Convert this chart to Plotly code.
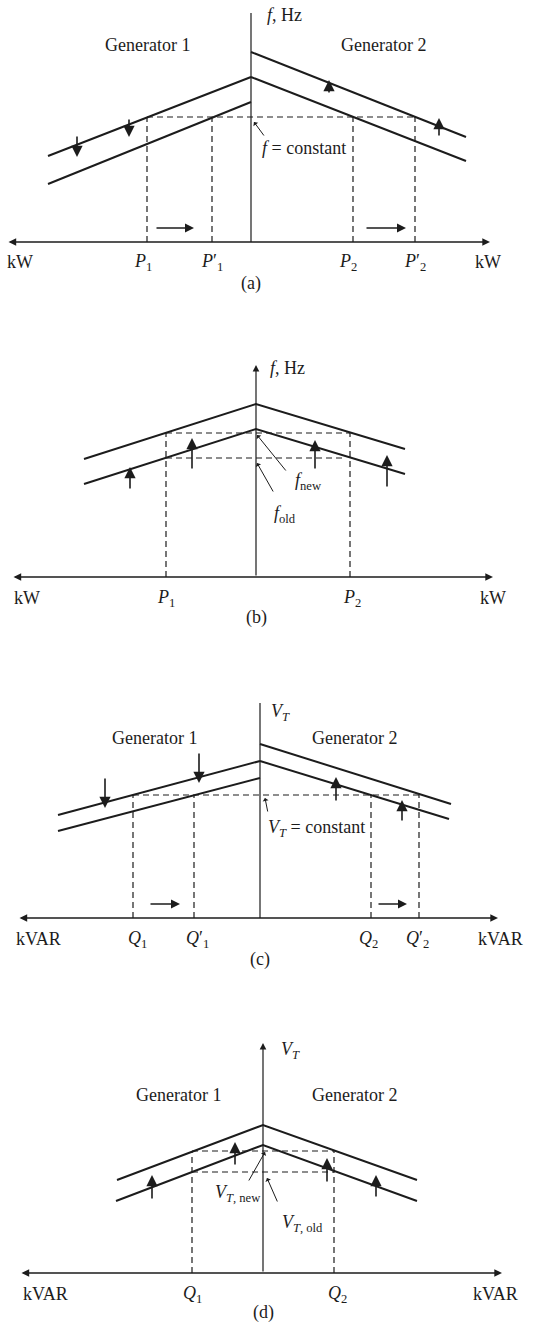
import plotly.graph_objects as go

# ===================== DATA (panel-local units: x measured from the vertical axis,
# y measured upward from the horizontal axis) =====================

# ---- Panel (a): f vs kW, governor set points moved ----
a_hax = [-244, 239]
a_vtop = 229
a_g1_up_x = [-203, 0]; a_g1_up_y = [86, 165]
a_g1_lo_x = [-203, 0]; a_g1_lo_y = [58, 140]
a_g2_up_x = [0, 215];  a_g2_up_y = [190, 105]
a_g2_lo_x = [0, 215];  a_g2_lo_y = [165, 81]
a_const_x = [-104, 164]; a_const_y = 125
a_drop_x = [-104, -39, 102, 164]
a_tick_x = [-108, -39, 97, 164]
a_tick_txt = ["<i>P</i><sub>1</sub>", "<i>P</i>′<sub>1</sub>", "<i>P</i><sub>2</sub>", "<i>P</i>′<sub>2</sub>"]
a_shift_x = [-174, -122, 78, 188]
a_shift_from = [107, 124, 148, 105]
a_shift_to = [85, 105, 162, 124]
a_move_from = [-96, 114]; a_move_to = [-57, 155]; a_move_y = 14

# ---- Panel (b): f vs kW, both set points raised ----
b_hax = [-244, 237]
b_vtop = 212
b_up_x = [-172, 0, 149]; b_up_y = [118, 173, 128]
b_lo_x = [-172, 0, 149]; b_lo_y = [93, 148, 103]
b_new_x = [-90, 94];  b_new_y = 144
b_old_x = [-90, 86];  b_old_y = 119
b_drop_x = [-90, 94]
b_tick_x = [-90, 96]
b_tick_txt = ["<i>P</i><sub>1</sub>", "<i>P</i><sub>2</sub>"]
b_shift_x = [-126, -64, 59, 131]
b_shift_from = [87, 107, 107, 89]
b_shift_to = [110, 139, 137, 122]

# ---- Panel (c): V_T vs kVAR, field currents changed ----
c_hax = [-242, 238]
c_vtop = 215
c_g1_up_x = [-202, 0]; c_g1_up_y = [103, 157]
c_g1_lo_x = [-202, 0]; c_g1_lo_y = [87, 140]
c_g2_up_x = [0, 191];  c_g2_up_y = [174, 114]
c_g2_lo_x = [0, 189];  c_g2_lo_y = [157, 99]
c_const_x = [-127, 159]; c_const_y = 123
c_drop_x = [-127, -66, 111, 159]
c_tick_x = [-123, -63, 108, 157]
c_tick_txt = ["<i>Q</i><sub>1</sub>", "<i>Q</i>′<sub>1</sub>", "<i>Q</i><sub>2</sub>", "<i>Q</i>′<sub>2</sub>"]
c_shift_x = [-155, -61, 76, 142]
c_shift_from = [141, 166, 116, 96]
c_shift_to = [110, 135, 141, 118]
c_move_from = [-111, 117]; c_move_to = [-80, 147]; c_move_y = 14

# ---- Panel (d): V_T vs kVAR, both field currents raised ----
d_hax = [-243, 239]
d_vtop = 230
d_up_x = [-146, 0, 154]; d_up_y = [93, 148, 93]
d_lo_x = [-147, 0, 154]; d_lo_y = [72, 128, 72]
d_new_x = [-71, 71]; d_new_y = 122
d_old_x = [-71, 71]; d_old_y = 101
d_drop_x = [-71, 71]
d_tick_x = [-71, 74]
d_tick_txt = ["<i>Q</i><sub>1</sub>", "<i>Q</i><sub>2</sub>"]
d_shift_x = [-111, -28, 64, 113]
d_shift_from = [73, 107, 90, 75]
d_shift_to = [98, 131, 115, 98]

# ===================== LAYOUT (pixel placement of each panel) =====================
W, H = 547, 1325
PANELS = {
    "a": dict(ax="", ox=251, oy=242, top=0, bot=300),
    "b": dict(ax="2", ox=256, oy=577, top=300, bot=640),
    "c": dict(ax="3", ox=260, oy=918, top=640, bot=990),
    "d": dict(ax="4", ox=263, oy=1273, top=990, bot=1325),
}
INK = "#1c1c1c"
FONT = "Liberation Serif"
FS = 18

fig = go.Figure()
annotations = []


def refs(p):
    s = PANELS[p]["ax"]
    return "x" + s, "y" + s


def line(p, xs, ys, width=2.0, dash=None):
    xr, yr = refs(p)
    fig.add_trace(go.Scatter(x=xs, y=ys, mode="lines", xaxis=xr, yaxis=yr,
                             line=dict(color=INK, width=width, dash=dash),
                             hoverinfo="skip", showlegend=False))


def arrow(p, x0, y0, x1, y1, width=1.5, size=1.0, head=2, side="end"):
    xr, yr = refs(p)
    annotations.append(dict(x=x1, y=y1, ax=x0, ay=y0, xref=xr, yref=yr, axref=xr, ayref=yr,
                            text="", showarrow=True, arrowhead=head, arrowsize=size,
                            arrowwidth=width, arrowcolor=INK, arrowside=side,
                            startarrowhead=head, startarrowsize=size, standoff=0, startstandoff=0))


def text(p, x, y, s, size=FS, anchor="center"):
    xr, yr = refs(p)
    annotations.append(dict(x=x, y=y, xref=xr, yref=yr, text=s, showarrow=False,
                            xanchor=anchor, yanchor="middle",
                            font=dict(family=FONT, size=size, color=INK)))


DASH = "6px,4px"
SHIFT_SIZE = 1.4

# ---------- panel (a) ----------
arrow("a", a_hax[0], 0, a_hax[1], 0, width=1.4, size=1.1, side="end+start")
line("a", [0, 0], [0, a_vtop], width=1.2)
for xs, ys in [(a_g1_up_x, a_g1_up_y), (a_g1_lo_x, a_g1_lo_y), (a_g2_up_x, a_g2_up_y), (a_g2_lo_x, a_g2_lo_y)]:
    line("a", xs, ys)
line("a", a_const_x, [a_const_y, a_const_y], width=1.2, dash=DASH)
for x in a_drop_x:
    line("a", [x, x], [0, a_const_y], width=1.2, dash=DASH)
for x, y0, y1 in zip(a_shift_x, a_shift_from, a_shift_to):
    arrow("a", x, y0, x, y1, width=1.6, size=SHIFT_SIZE)
for x0, x1 in zip(a_move_from, a_move_to):
    arrow("a", x0, a_move_y, x1, a_move_y, width=1.5, size=1.2)
arrow("a", 14, 105, 3, 120, width=1.0, size=1.0, head=1)
text("a", 33, 227, "<i>f</i>, Hz")
text("a", -104, 197, "Generator 1")
text("a", 132, 197, "Generator 2")
text("a", 53, 94, "<i>f</i> = constant")
text("a", -231, -20, "kW")
text("a", 237, -20, "kW")
for x, s in zip(a_tick_x, a_tick_txt):
    text("a", x, -20, s)
text("a", 0, -41, "(a)")

# ---------- panel (b) ----------
arrow("b", b_hax[0], 0, b_hax[1], 0, width=1.4, size=1.1, side="end+start")
arrow("b", 0, 0, 0, b_vtop, width=1.2, size=1.1)
line("b", b_up_x, b_up_y)
line("b", b_lo_x, b_lo_y)
line("b", b_new_x, [b_new_y, b_new_y], width=1.2, dash=DASH)
line("b", b_old_x, [b_old_y, b_old_y], width=1.2, dash=DASH)
for x in b_drop_x:
    line("b", [x, x], [0, b_new_y], width=1.2, dash=DASH)
for x, y0, y1 in zip(b_shift_x, b_shift_from, b_shift_to):
    arrow("b", x, y0, x, y1, width=1.6, size=SHIFT_SIZE)
arrow("b", 31, 105, 1, 142, width=1.0, size=1.0, head=1)
arrow("b", 18, 84, 1, 114, width=1.0, size=1.0, head=1)
text("b", 31, 209, "<i>f</i>, Hz")
text("b", 52, 95, "<i>f</i><sub>new</sub>")
text("b", 29, 63, "<i>f</i><sub>old</sub>")
text("b", -229, -21, "kW")
text("b", 237, -21, "kW")
for x, s in zip(b_tick_x, b_tick_txt):
    text("b", x, -21, s)
text("b", 0, -40, "(b)")

# ---------- panel (c) ----------
arrow("c", c_hax[0], 0, c_hax[1], 0, width=1.4, size=1.1, side="end+start")
line("c", [0, 0], [0, c_vtop], width=1.2)
for xs, ys in [(c_g1_up_x, c_g1_up_y), (c_g1_lo_x, c_g1_lo_y), (c_g2_up_x, c_g2_up_y), (c_g2_lo_x, c_g2_lo_y)]:
    line("c", xs, ys)
line("c", c_const_x, [c_const_y, c_const_y], width=1.2, dash=DASH)
for x in c_drop_x:
    line("c", [x, x], [0, c_const_y], width=1.2, dash=DASH)
for x, y0, y1 in zip(c_shift_x, c_shift_from, c_shift_to):
    arrow("c", x, y0, x, y1, width=1.6, size=SHIFT_SIZE)
for x0, x1 in zip(c_move_from, c_move_to):
    arrow("c", x0, c_move_y, x1, c_move_y, width=1.5, size=1.2)
arrow("c", 8, 105, 5, 120, width=1.0, size=1.0, head=1)
text("c", 20, 206, "<i>V<sub>T</sub></i>")
text("c", -106, 180, "Generator 1")
text("c", 94, 180, "Generator 2")
text("c", 56, 90, "<i>V<sub>T</sub></i> = constant")
text("c", -222, -21, "kVAR")
text("c", 240, -21, "kVAR")
for x, s in zip(c_tick_x, c_tick_txt):
    text("c", x, -21, s)
text("c", 0, -41, "(c)")

# ---------- panel (d) ----------
arrow("d", d_hax[0], 0, d_hax[1], 0, width=1.4, size=1.1, side="end+start")
arrow("d", 0, 0, 0, d_vtop, width=1.2, size=1.1)
line("d", d_up_x, d_up_y)
line("d", d_lo_x, d_lo_y)
line("d", d_new_x, [d_new_y, d_new_y], width=1.2, dash=DASH)
line("d", d_old_x, [d_old_y, d_old_y], width=1.2, dash=DASH)
for x in d_drop_x:
    line("d", [x, x], [0, d_new_y], width=1.2, dash=DASH)
for x, y0, y1 in zip(d_shift_x, d_shift_from, d_shift_to):
    arrow("d", x, y0, x, y1, width=1.6, size=SHIFT_SIZE)
arrow("d", -15, 91, 2, 121, width=1.0, size=1.0, head=1)
arrow("d", 15, 70, 4, 95, width=1.0, size=1.0, head=1)
text("d", 27, 223, "<i>V<sub>T</sub></i>")
text("d", -85, 178, "Generator 1")
text("d", 91, 178, "Generator 2")
text("d", -25, 80, "<i>V<sub>T</sub></i><sub>, new</sub>")
text("d", 39, 50, "<i>V<sub>T</sub></i><sub>, old</sub>")
text("d", -218, -21, "kVAR")
text("d", 232, -21, "kVAR")
for x, s in zip(d_tick_x, d_tick_txt):
    text("d", x, -21, s)
text("d", 0, -39, "(d)")

# ---------- axes ----------
layout_axes = {}
for p, c in PANELS.items():
    s = c["ax"]
    layout_axes["xaxis" + s] = dict(domain=[0, 1], range=[-c["ox"], W - c["ox"]], visible=False,
                                   fixedrange=True, anchor="y" + s)
    layout_axes["yaxis" + s] = dict(domain=[1 - c["bot"] / H, 1 - c["top"] / H],
                                   range=[c["oy"] - c["bot"], c["oy"] - c["top"]], visible=False,
                                   fixedrange=True, anchor="x" + s)

fig.update_layout(width=W, height=H, margin=dict(l=0, r=0, t=0, b=0),
                  paper_bgcolor="white", plot_bgcolor="white",
                  annotations=annotations, **layout_axes)

fig.write_html("out.html", config={"displayModeBar": False},
               post_script="document.body.style.margin='0';document.body.style.overflow='hidden';")
